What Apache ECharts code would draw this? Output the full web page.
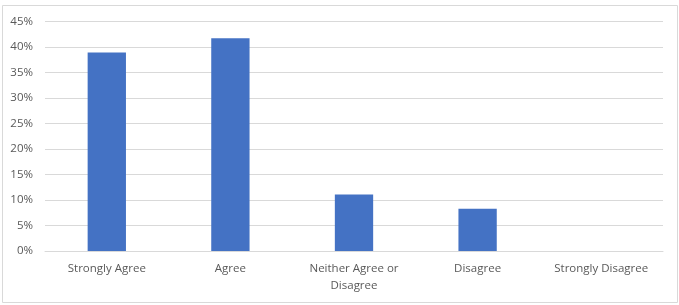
<!DOCTYPE html>
<html><head><meta charset="utf-8">
<script src="https://cdn.jsdelivr.net/npm/echarts@6/dist/echarts.min.js"></script>
<style>html,body{margin:0;padding:0;background:#fff}#c{width:679px;height:305px}</style>
</head><body><div id="c"></div>
<script>
const categories = ["Strongly Agree", "Agree", "Neither Agree or\nDisagree", "Disagree", "Strongly Disagree"];
const values = [38.9, 41.7, 11.1, 8.3, 0];
const chart = echarts.init(document.getElementById('c'));
chart.setOption({
  animation: false,
  graphic: [{type:'rect', shape:{x:2.5,y:5.5,width:675,height:297}, style:{fill:'none', stroke:'#d9d9d9', lineWidth:1}, silent:true}],
  grid: {left: 45, right: 16, top: 21.5, bottom: 54},
  xAxis: {
    type: 'category', data: categories,
    axisLine: {lineStyle: {color: '#d9d9d9'}}, axisTick: {show: false},
    axisLabel: {color: '#595959', fontFamily: 'Open Sans', fontSize: 11.5, margin: 9, lineHeight: 17, interval: 0}
  },
  yAxis: {
    type: 'value', min: 0, max: 45, interval: 5,
    axisLine: {show: false}, axisTick: {show: false},
    splitLine: {lineStyle: {color: '#d9d9d9'}},
    axisLabel: {color: '#595959', fontFamily: 'Open Sans', fontSize: 11.5, margin: 12, formatter: v => v + '%'}
  },
  series: [{type: 'bar', data: values, barWidth: '31%', itemStyle: {color: '#4472C4'}}]
});
</script></body></html>
